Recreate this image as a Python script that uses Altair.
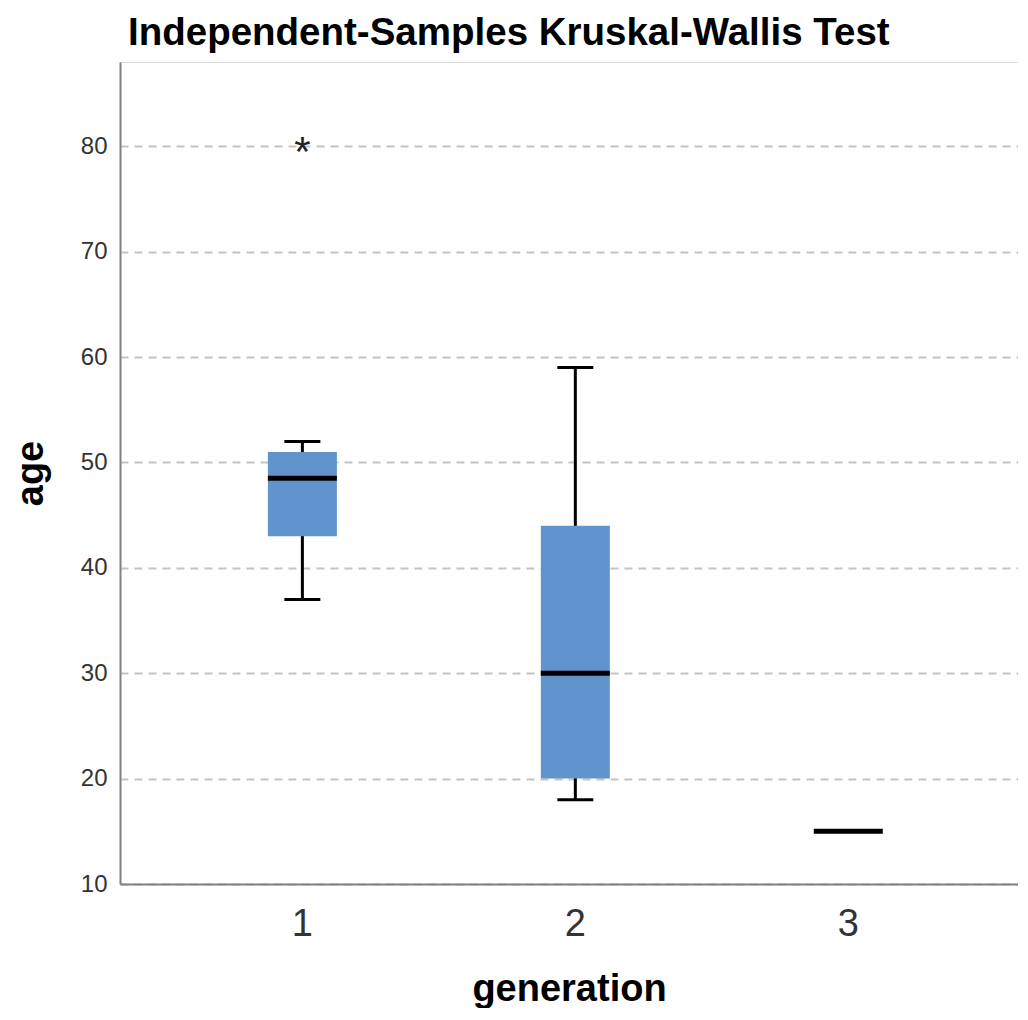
import altair as alt
import pandas as pd

# ---- data ----
generation = ["1", "2", "3"]
lower_whisker = [37, 18, 15]
q1 = [43, 20, 15]
median = [48.5, 30, 15]
q3 = [51, 44, 15]
upper_whisker = [52, 59, 15]
outlier_generation = ["1"]
outlier_age = [80]
outlier_symbol = ["*"]
y_ticks = [10, 20, 30, 40, 50, 60, 70, 80]

df = pd.DataFrame(dict(generation=generation, lower=lower_whisker, q1=q1,
                       median=median, q3=q3, upper=upper_whisker))
out = pd.DataFrame(dict(generation=outlier_generation, age=outlier_age,
                        sym=outlier_symbol))

FONT = "Liberation Sans"

x_scale = alt.Scale(domain=generation, paddingInner=0, paddingOuter=0.145, align=0.58)
y_scale = alt.Scale(domain=[10, 88], nice=False, zero=False)

x_enc = alt.X(
    "generation:N", scale=x_scale,
    axis=alt.Axis(
        title="generation", labelAngle=0, labelFontSize=38, labelFont=FONT,
        labelColor="#333333", labelBaseline="alphabetic", labelPadding=51,
        ticks=False, tickSize=0, domainColor="#808080", domainWidth=2,
        titleFontSize=38, titleFont=FONT, titleFontWeight="bold",
        titleColor="#000000", titleY=116, titleBaseline="alphabetic",
        grid=False, zindex=1,
    ),
)

y_axis = alt.Axis(
    title="age", values=y_ticks, labelFontSize=24, labelFont=FONT,
    labelColor="#333333", labelPadding=13, ticks=False, tickSize=0,
    domainColor="#808080", domainWidth=2, grid=True, gridDash=[8, 6],
    gridColor="#c4c4c4", gridWidth=2, titleFontSize=38, titleFont=FONT,
    titleFontWeight="bold", titleColor="#000000", titleAngle=-90,
    titleX=-78, titleY=411, titleBaseline="alphabetic", titleAlign="center",
    zindex=0,
)

base = alt.Chart(df).encode(x=x_enc)

whisker = base.mark_rule(color="#000000", strokeWidth=3).encode(
    y=alt.Y("lower:Q", scale=y_scale, axis=y_axis), y2="upper:Q")
box = base.mark_bar(size=69, color="#6193cd").encode(
    y=alt.Y("q1:Q", scale=y_scale), y2="q3:Q")
cap_lo = base.mark_tick(size=36, thickness=3, color="#000000", opacity=1).encode(
    y=alt.Y("lower:Q", scale=y_scale))
cap_hi = base.mark_tick(size=36, thickness=3, color="#000000", opacity=1).encode(
    y=alt.Y("upper:Q", scale=y_scale))
med = base.mark_tick(size=69, thickness=5, color="#000000", opacity=1).encode(
    y=alt.Y("median:Q", scale=y_scale))
outl = alt.Chart(out).mark_text(fontSize=42, font=FONT, color="#222222",
                                baseline="middle", dy=7).encode(
    x=alt.X("generation:N", scale=x_scale),
    y=alt.Y("age:Q", scale=y_scale),
    text="sym:N",
)

chart = alt.layer(whisker, box, cap_lo, cap_hi, med, outl).properties(
    width=898, height=822,
    padding={"left": 112, "top": 54, "right": 0, "bottom": 124},
    autosize=alt.AutoSizeParams(type="none"),
    title=alt.TitleParams(
        "Independent-Samples Kruskal-Wallis Test", anchor="start", frame="group",
        dx=8, offset=9, fontSize=38.5, font=FONT,
        fontWeight="bold", color="#000000",
    ),
).configure_view(stroke=None).configure(background="#ffffff")

chart.save("out.html", embed_options={"renderer": "svg", "actions": False})
